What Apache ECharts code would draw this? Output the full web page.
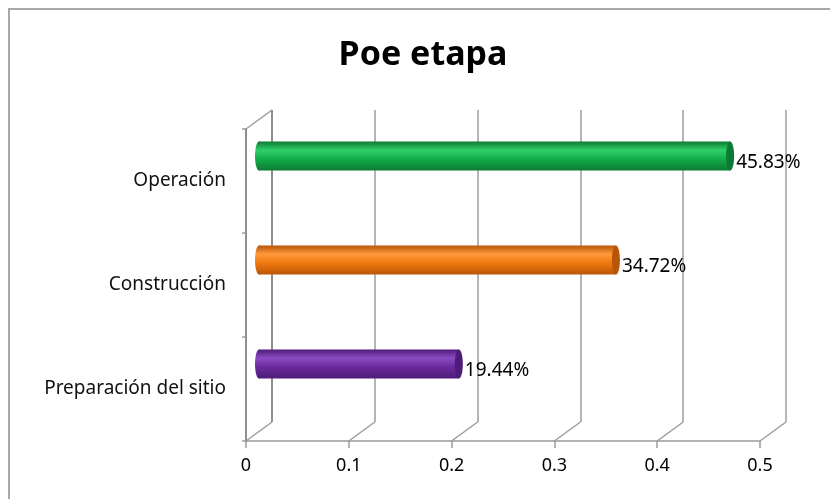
<!DOCTYPE html>
<html>
<head>
<meta charset="utf-8">
<title>Poe etapa</title>
<script src="https://cdn.jsdelivr.net/npm/echarts@6/dist/echarts.min.js"></script>
<style>
  html, body { margin: 0; padding: 0; background: #fff; }
  #chart { width: 830px; height: 499px; }
</style>
</head>
<body>
<div id="chart"></div>
<script>
// data
const categories = ["Preparación del sitio", "Construcción", "Operación"];
const values = [0.1944, 0.3472, 0.4583];
const barColors = [
  ["#8a4cc2", "#6a2b9c", "#4e1c78"],
  ["#ff9a3c", "#f2790f", "#b85608"],
  ["#2fcf6a", "#14ad4b", "#0b7a33"],
];
const xTicks = [0, 0.1, 0.2, 0.3, 0.4, 0.5];

// 3d box layout (front plane / back plane)
const FRONT = { left: 246, right: 70, top: 129, bottom: 58 };
const DX = 26;
const DY = 19;
const BACK = {
  left: FRONT.left + DX,
  right: FRONT.right - DX,
  top: FRONT.top - DY,
  bottom: FRONT.bottom + DY,
};
const MID = { left: 259, right: 57, top: 104, bottom: 83 };

const gridLine = "#9c9c9c";
const font = "'Noto Sans', 'DejaVu Sans', sans-serif";

const chart = echarts.init(document.getElementById("chart"));

const grad = (c) =>
  new echarts.graphic.LinearGradient(0, 0, 0, 1, [
    { offset: 0, color: c[2] },
    { offset: 0.3, color: c[0] },
    { offset: 0.6, color: c[1] },
    { offset: 1, color: c[2] },
  ]);

chart.setOption({
  animation: false,
  title: {
    text: "Poe etapa",
    left: 418,
    textAlign: "center",
    top: 33,
    textStyle: {
      fontFamily: font,
      fontWeight: "bold",
      fontSize: 34,
      color: "#000",
    },
  },
  graphic: [
    {
      type: "rect",
      shape: { x: 9, y: 9, width: 900, height: 600 },
      style: { fill: null, stroke: "#a8a8a8", lineWidth: 2 },
      silent: true,
      z: -10,
    },
  ],
  grid: [
    { ...FRONT },
    { ...BACK },
    { ...MID },
  ],
  xAxis: [
    {
      gridIndex: 0,
      type: "value",
      min: 0,
      max: 0.5,
      interval: 0.1,
      axisLine: { show: true, onZero: false, lineStyle: { color: gridLine, width: 1.5 } },
      axisTick: { show: true, length: 7, lineStyle: { color: gridLine, width: 1.5 } },
      splitLine: { show: false },
      axisLabel: {
        margin: 16,
        fontFamily: font,
        fontSize: 18,
        color: "#000",
      },
    },
    {
      gridIndex: 1,
      type: "value",
      min: 0,
      max: 0.5,
      interval: 0.1,
      axisLine: { show: false },
      axisTick: { show: false },
      axisLabel: { show: false },
      splitLine: {
        show: true,
        showMinLine: true,
        showMaxLine: true,
        lineStyle: { color: gridLine, width: 1.5 },
      },
    },
    {
      gridIndex: 2,
      type: "value",
      min: 0,
      max: 0.5,
      show: false,
    },
  ],
  yAxis: [
    {
      gridIndex: 0,
      type: "category",
      data: categories,
      axisLine: { show: true, onZero: false, lineStyle: { color: gridLine, width: 1.5 } },
      axisTick: { show: true, length: 4, lineStyle: { color: gridLine, width: 1.5 } },
      axisLabel: {
        margin: 20,
        fontFamily: font,
        fontSize: 19,
        color: "#111",
      },
    },
    {
      gridIndex: 1,
      type: "category",
      data: categories,
      show: false,
    },
    {
      gridIndex: 2,
      type: "category",
      data: categories,
      show: false,
    },
  ],
  series: [
    {
      // depth edges of the floor and the left wall
      type: "custom",
      xAxisIndex: 0,
      yAxisIndex: 0,
      silent: true,
      z: 1,
      data: xTicks.map((t) => [t, 0]),
      renderItem: (params, api) => {
        const p = api.coord([api.value(0), 0]);
        const band = api.size([0, 1])[1];
        const bottom = p[1] + band / 2;
        const style = { stroke: gridLine, lineWidth: 1.5, fill: null };
        const wall = { stroke: "#8f8f8f", lineWidth: 2, fill: null };
        const children = [
          {
            type: "line",
            shape: { x1: p[0], y1: bottom, x2: p[0] + DX, y2: bottom - DY },
            style,
          },
        ];
        if (params.dataIndex === 0) {
          const top = api.coord([0, categories.length - 1])[1] - band / 2;
          children.push(
            {
              type: "line",
              shape: { x1: p[0], y1: top, x2: p[0] + DX, y2: top - DY },
              style,
            },
            {
              type: "polyline",
              shape: { points: [[p[0], top], [p[0] + 0.01, bottom]] },
              style: wall,
            },
            {
              type: "polyline",
              shape: { points: [[p[0] + DX, top - DY], [p[0] + DX + 0.01, bottom - DY]] },
              style: wall,
            }
          );
        }
        return { type: "group", children };
      },
    },
    {
      // cylinder bars
      type: "custom",
      xAxisIndex: 2,
      yAxisIndex: 2,
      z: 3,
      data: values.map((v, i) => [v, i]),
      encode: { x: 0, y: 1 },
      renderItem: (params, api) => {
        const i = api.value(1);
        const v = api.value(0);
        const s = api.coord([0, i]);
        const e = api.coord([v, i]);
        const h = api.size([0, 1])[1] * 0.28;
        const rx = 4;
        const c = barColors[params.dataIndex];
        return {
          type: "group",
          children: [
            {
              type: "ellipse",
              shape: { cx: s[0], cy: s[1], rx: rx, ry: h / 2 },
              style: { fill: grad(c) },
            },
            {
              type: "rect",
              shape: { x: s[0], y: s[1] - h / 2, width: e[0] - s[0], height: h },
              style: { fill: grad(c) },
            },
            {
              type: "ellipse",
              shape: { cx: e[0], cy: e[1], rx: rx, ry: h / 2 },
              style: { fill: c[2] },
            },
            {
              type: "text",
              x: e[0] + rx + 2,
              y: e[1] + 7,
              style: {
                text: (v * 100).toFixed(2) + "%",
                fill: "#000",
                font: "19px " + font,
                verticalAlign: "middle",
                align: "left",
              },
            },
          ],
        };
      },
    },
  ],
});
</script>
</body>
</html>
